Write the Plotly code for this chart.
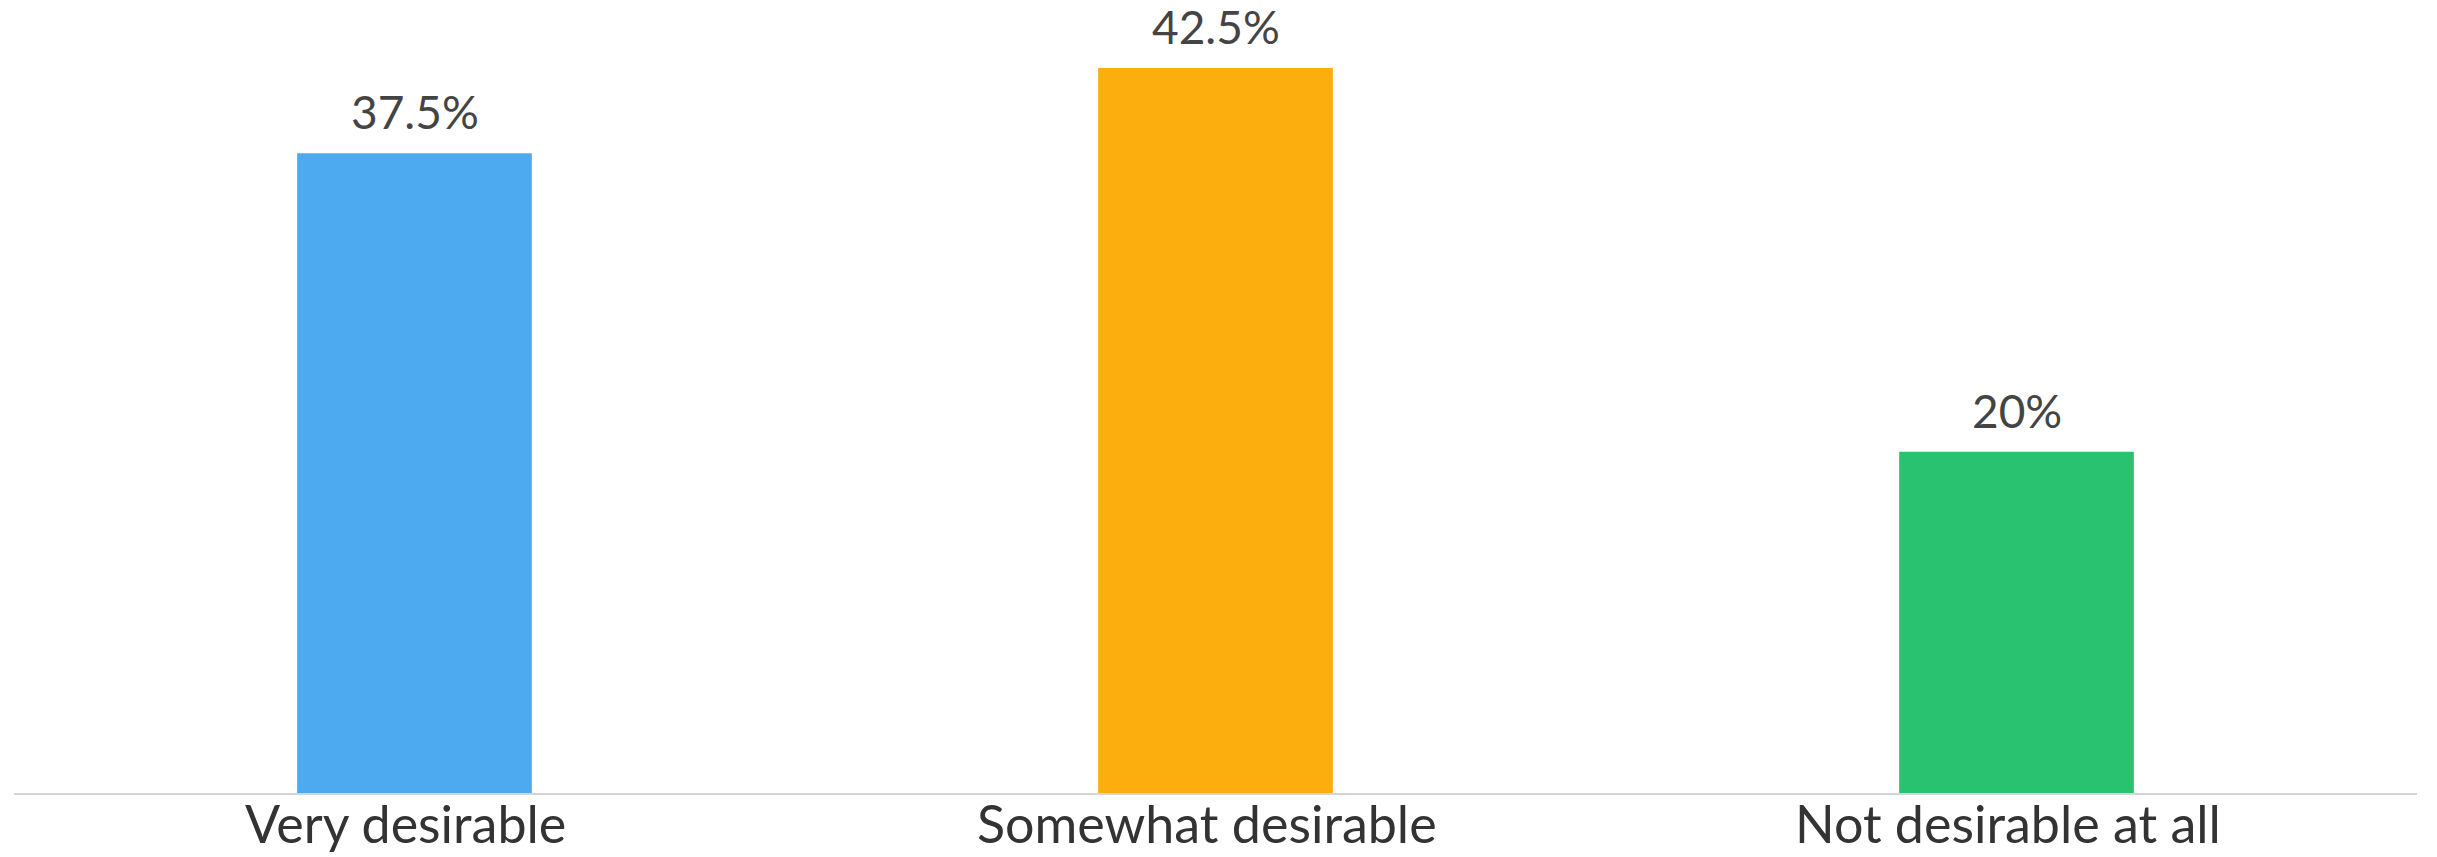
import plotly.graph_objects as go

categories = ["Very desirable", "Somewhat desirable", "Not desirable at all"]
values = [37.5, 42.5, 20]
labels = ["37.5%", "42.5%", "20%"]
colors = ["#4eaaf0", "#fcae0e", "#29c271"]

W, H = 2437, 857
fig = go.Figure(
    go.Bar(
        x=categories,
        y=values,
        marker=dict(color=colors, line=dict(width=0)),
        width=0.293,
        hoverinfo="skip",
    )
)

# value labels above the bars
for c, v, t in zip(categories, values, labels):
    fig.add_annotation(
        x=c, y=v, text=t, showarrow=False, yanchor="bottom", yshift=12,
        font=dict(family="Lato", size=46, color="#444444"),
    )

# category labels under the axis line
for c in categories:
    fig.add_annotation(
        x=c, xref="x", y=0, yref="paper", text=c, showarrow=False,
        yanchor="top", xshift=-9, yshift=3,
        font=dict(family="Lato", size=52, color="#333333"),
    )

fig.update_layout(
    width=W, height=H,
    margin=dict(l=14, r=20, t=0, b=64, autoexpand=False),
    paper_bgcolor="white", plot_bgcolor="white",
    showlegend=False,
    xaxis=dict(
        showline=True, linecolor="#d4d4d4", linewidth=2,
        showgrid=False, ticks="", zeroline=False, showticklabels=False,
        automargin=False,
    ),
    yaxis=dict(
        range=[0, 46.48], visible=False, showgrid=False, zeroline=False,
        automargin=False,
    ),
)

fig.write_html("out.html")
